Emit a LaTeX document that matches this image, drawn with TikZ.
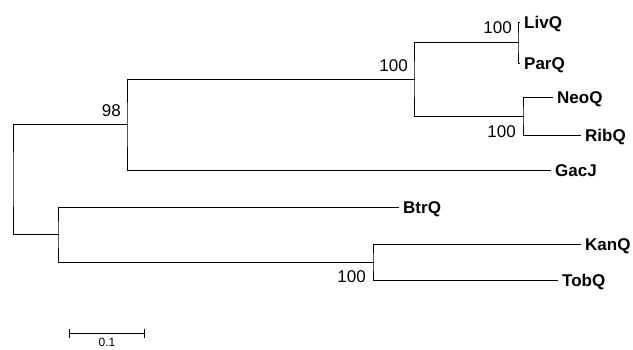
\documentclass[tikz,border=0pt]{standalone}
\usepackage{fontspec}
\setmainfont{Liberation Sans}
\usepackage{tikz}
\usetikzlibrary{arrows.meta}
\tikzstyle{branch}=[line width=1pt, line cap=rect]
\tikzstyle{taxon}=[anchor=west, inner xsep=5pt, inner ysep=0pt,
                   text height=12pt, text depth=0pt,
                   font=\fontsize{17}{20}\selectfont\bfseries]
\tikzstyle{boot}=[anchor=east, inner sep=0pt,
                  text height=12pt, text depth=0pt,
                  font=\fontsize{17}{20}\selectfont]

\begin{document}
\begin{tikzpicture}[x=1pt, y=-1pt]
    \useasboundingbox (0,0) rectangle (633,349);
      % leaves
      \node (livq) at (519,22)  [taxon]{LivQ};
      \node (parq) at (519,63)  [taxon]{ParQ};
      \node (neoq) at (552,97)  [taxon]{NeoQ};
      \node (ribq) at (580,135) [taxon]{RibQ};
      \node (gacj) at (550,170) [taxon]{GacJ};
      \node (btrq) at (398,207) [taxon]{BtrQ};
      \node (kanq) at (580,244) [taxon]{KanQ};
      \node (tobq) at (557,280) [taxon]{TobQ};

      % internal nodes
      \coordinate (d) at (518,42.5);
      \coordinate (e) at (523,116);
      \coordinate (c) at (414,79.3);
      \coordinate (a) at (127,124.6);
      \coordinate (f) at (373,262);
      \coordinate (b) at (58,234.5);
      \coordinate (r) at (13,179.6);

      \foreach \u/\x/\v in {livq.west/d/parq.west,neoq.west/e/ribq.west,
                            d/c/e,c/a/gacj.west,kanq.west/f/tobq.west,
                            btrq.west/b/f,a/r/b}
        \draw [branch] (\u) -| (\x) |- (\v);

      % bootstrap values
      \node (bd) at (512,27)  [boot]{100};
      \node (bc) at (408,65)  [boot]{100};
      \node (be) at (516,131) [boot]{100};
      \node (ba) at (121,110) [boot]{98};
      \node (bf) at (366,276) [boot]{100};

      % scale bar
      \coordinate (s0) at (69,333);
      \coordinate (s1) at (145,333);
      \draw [branch, line cap=butt, {Bar[width=9pt]}-{Bar[width=9pt]}] (s0) -- (s1);
      \node (sl) at (107,342) [inner sep=0pt, text height=8.5pt, text depth=0pt,
                               font=\fontsize{12}{14}\selectfont]{0.1};
\end{tikzpicture}
\end{document}
